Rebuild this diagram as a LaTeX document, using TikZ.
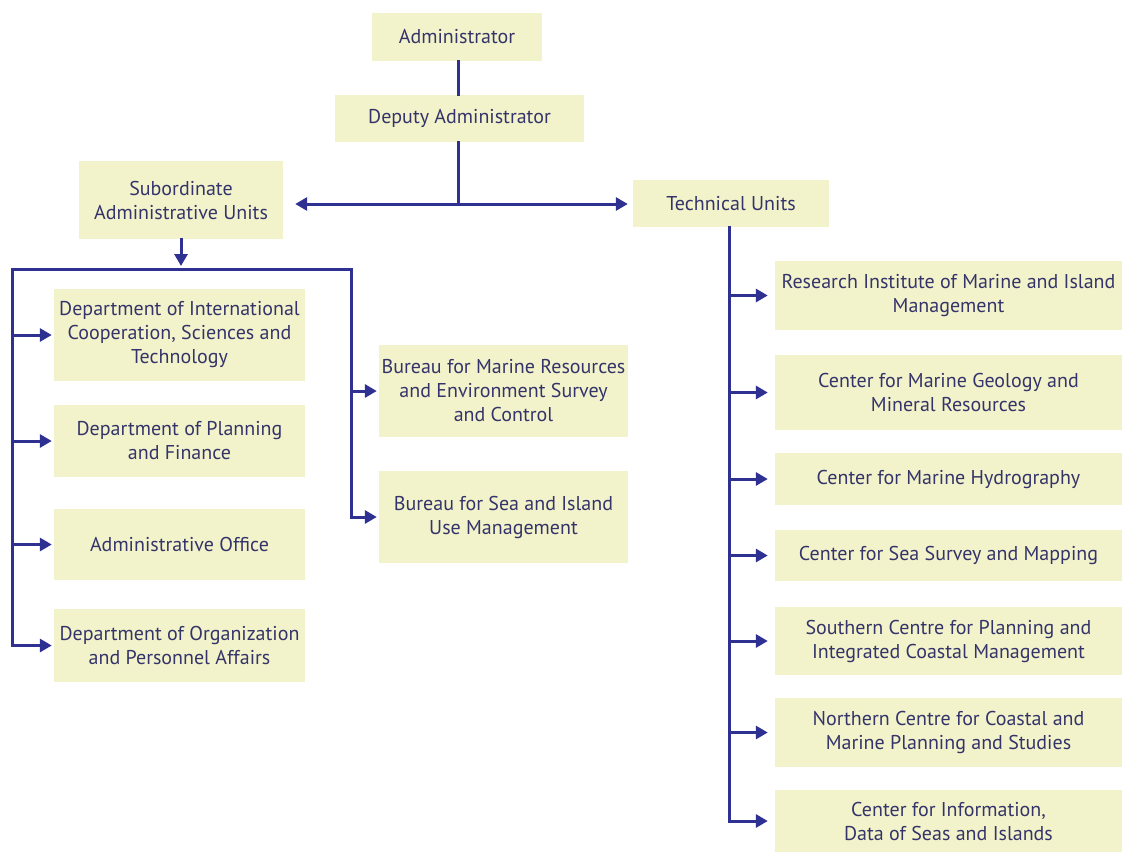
\documentclass[tikz,border=0pt]{standalone}
\usepackage{fontspec}
\setmainfont{PT Sans}
\usetikzlibrary{arrows.meta}
\definecolor{boxfill}{HTML}{F3F3CB}
\definecolor{linkblue}{HTML}{2E3192}
\definecolor{labeltext}{HTML}{34346A}
\begin{document}
\begin{tikzpicture}[x=1pt,y=-1pt,
  unit/.style={fill=boxfill, inner sep=0pt, align=center, text=labeltext,
    font=\fontsize{20}{24}\selectfont},
  link/.style={draw=linkblue, line width=3pt, line cap=rect},
  arr/.style={link, -{Triangle[length=12pt,width=13pt]}}]
\useasboundingbox (0,0) rectangle (1122,852);

% top of the hierarchy
\node[unit, minimum width=170pt, minimum height=48pt] (admin)  at (457,37)    {Administrator};
\node[unit, minimum width=249pt, minimum height=47pt] (deputy) at (459.5,118.5) {Deputy Administrator};
\node[unit, minimum width=204pt, minimum height=78pt] (sub)    at (181,200)   {Subordinate\\Administrative Units};
\node[unit, minimum width=196pt, minimum height=47pt] (tech)   at (731,203.5) {Technical Units};

% administrative departments
\node[unit, minimum width=251pt, minimum height=92pt] (intl)   at (179.5,335)   {Department of International\\Cooperation, Sciences and\\Technology};
\node[unit, minimum width=251pt, minimum height=72pt] (plan)   at (179.5,441)   {Department of Planning\\and Finance};
\node[unit, minimum width=251pt, minimum height=71pt] (office) at (179.5,544.5) {Administrative Office};
\node[unit, minimum width=251pt, minimum height=73pt] (org)    at (179.5,645.5) {Department of Organization\\and Personnel Affairs};
\node[unit, minimum width=249pt, minimum height=92pt] (bmar)   at (503.5,391)   {Bureau for Marine Resources\\and Environment Survey\\and Control};
\node[unit, minimum width=249pt, minimum height=92pt] (bsea)   at (503.5,517)   {Bureau for Sea and Island\\Use Management};

% technical centres
\node[unit, minimum width=347pt, minimum height=69pt] (res) at (948.5,295.5) {Research Institute of Marine and Island\\Management};
\node[unit, minimum width=347pt, minimum height=75pt] (geo) at (948.5,392.5) {Center for Marine Geology and\\Mineral Resources};
\node[unit, minimum width=347pt, minimum height=52pt] (hyd) at (948.5,479)   {Center for Marine Hydrography};
\node[unit, minimum width=347pt, minimum height=51pt] (svy) at (948.5,555.5) {Center for Sea Survey and Mapping};
\node[unit, minimum width=347pt, minimum height=68pt] (sou) at (948.5,641)   {Southern Centre for Planning and\\Integrated Coastal Management};
\node[unit, minimum width=347pt, minimum height=69pt] (nor) at (948.5,732.5) {Northern Centre for Coastal and\\Marine Planning and Studies};
\node[unit, minimum width=347pt, minimum height=62pt] (inf) at (948.5,821)   {Center for Information,\\Data of Seas and Islands};

% main trunk
\coordinate (hub) at (458,204);
\draw[link] (admin.south -| hub) -- (deputy.north -| hub);
\draw[link] (deputy.south -| hub) -- (hub);
\draw[arr, shorten >=12pt] (hub) -- (sub.east |- hub);
\draw[arr, shorten >=5pt] (hub) -- (tech.west |- hub);

% administrative branch
\coordinate (busL) at (12,269);
\coordinate (busR) at (351,269);
\coordinate (busM) at (181,269);
\draw[arr, shorten >=3pt] (sub.south) -- (busM);
\draw[link] (busL) -- (busR);
\draw[arr, shorten >=2pt] (busL) |- (org.west);
\foreach \n in {intl,plan,office}
  \draw[arr, shorten >=2pt] (busL |- \n.west) -- (\n.west);
\draw[arr, shorten >=2pt] (busR) |- (bsea.west);
\draw[arr, shorten >=2pt] (busR |- bmar.west) -- (bmar.west);

% technical branch
\coordinate (tb) at (729,0);
\draw[arr, shorten >=7pt] (tech.south -| tb) |- (inf.west);
\foreach \n in {res,geo,hyd,svy,sou,nor}
  \draw[arr, shorten >=7pt] (tb |- \n.west) -- (\n.west);
\end{tikzpicture}
\end{document}
